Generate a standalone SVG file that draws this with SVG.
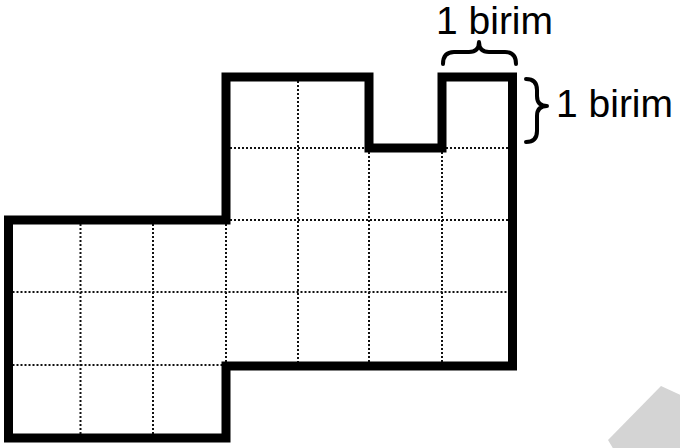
<svg xmlns="http://www.w3.org/2000/svg" width="680" height="448" viewBox="0 0 680 448">
  <style>
    .grid { stroke: #111; stroke-width: 2; stroke-dasharray: 2 2; fill: none; }
    .outline { stroke: #000; stroke-width: 9; fill: none; stroke-linejoin: miter; }
    .brace { stroke: #000; stroke-width: 4; fill: none; stroke-linecap: round; stroke-linejoin: round; }
    .label { font-family: "Liberation Sans", Arial, sans-serif; font-size: 39px; fill: #000; }
  </style>
  <rect width="680" height="448" fill="#fff"/>
  <polygon id="watermark" points="608,440 661,386 700,404 700,460 620,460" fill="#d4d4d4"/>
  <g id="grid">
    <line class="grid" x1="80.5" y1="220" x2="80.5" y2="438"/>
    <line class="grid" x1="153" y1="220" x2="153" y2="438"/>
    <line class="grid" x1="226" y1="220" x2="226" y2="366"/>
    <line class="grid" x1="298" y1="77" x2="298" y2="366"/>
    <line class="grid" x1="369" y1="148" x2="369" y2="366"/>
    <line class="grid" x1="442" y1="148" x2="442" y2="366"/>
    <line class="grid" x1="226" y1="148" x2="512.5" y2="148"/>
    <line class="grid" x1="226" y1="220" x2="512.5" y2="220"/>
    <line class="grid" x1="8.5" y1="292" x2="512.5" y2="292"/>
    <line class="grid" x1="8.5" y1="365" x2="226" y2="365"/>
  </g>
  <g id="shape">
    <path class="outline" d="M8.5,220 L226,220 L226,77 L369,77 L369,148 L442,148 L442,77 L512.5,77 L512.5,366 L226,366 L226,438 L8.5,438 Z"/>
  </g>
  <g id="top-brace">
    <path class="brace" d="M443,64 Q443,52 454,52 L469,52 Q479,52 479,42 Q479,52 489,52 L505,52 Q516,52 516,64"/>
    <text class="label" x="436" y="34">1 birim</text>
  </g>
  <g id="right-brace">
    <path class="brace" d="M526,79 Q537,79 537,90 L537,96 Q537,106 547,106 Q537,106 537,116 L537,131 Q537,142 526,142"/>
    <text class="label" x="556" y="117">1 birim</text>
  </g>
</svg>
